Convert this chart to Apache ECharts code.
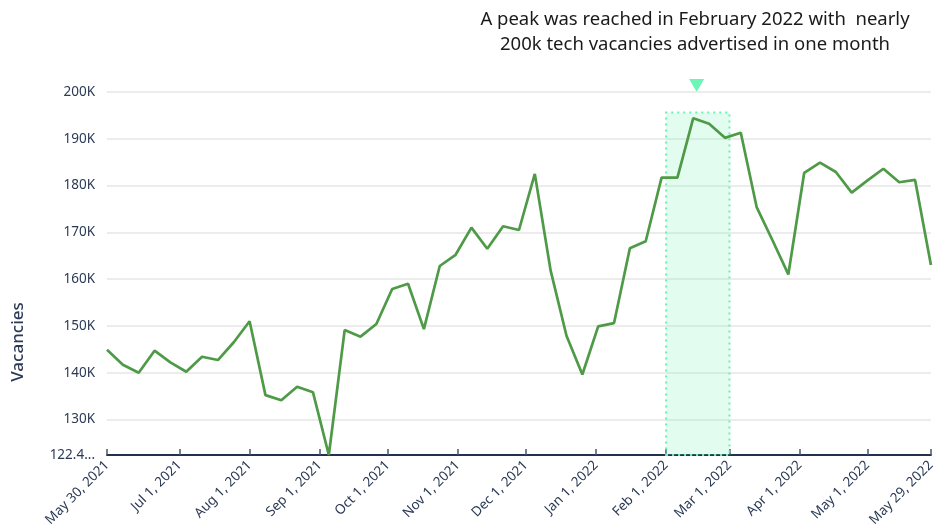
<!DOCTYPE html>
<html>
<head>
<meta charset="utf-8">
<script src="https://cdn.jsdelivr.net/npm/echarts@6/dist/echarts.min.js"></script>
<style>
  html, body { margin: 0; padding: 0; background: #fff; }
  #chart { width: 938px; height: 530px; }
</style>
</head>
<body>
<div id="chart"></div>
<script>
// weekly tech vacancies, thousands, one point per week from May 30 2021
const startDate = [2021, 4, 30]
const vacanciesK = [
  144.9, 141.7, 140.0, 144.7, 142.2, 140.2, 143.4, 142.7, 146.5, 151.0,
  135.2, 134.1, 137.0, 135.8, 122.4, 149.1, 147.7, 150.4, 157.9, 159.0,
  149.3, 162.8, 165.2, 171.0, 166.5, 171.3, 170.5, 182.5, 161.8, 147.9,
  139.6, 149.9, 150.6, 166.6, 168.1, 181.7, 181.7, 194.4, 193.2, 190.2,
  191.3, 175.4, 168.3, 161.0, 182.7, 184.9, 182.9, 178.5, 181.1, 183.6,
  180.7, 181.2, 163.0
]
// x tick labels
const tickDates = [
  [2021, 4, 30], [2021, 6, 1], [2021, 7, 1], [2021, 8, 1], [2021, 9, 1],
  [2021, 10, 1], [2021, 11, 1], [2022, 0, 1], [2022, 1, 1], [2022, 2, 1],
  [2022, 3, 1], [2022, 4, 1], [2022, 4, 29]
]
// y tick labels
const yTicks = [122400, 130000, 140000, 150000, 160000, 170000, 180000, 190000, 200000]
const yMin = 122400
const yMax = 200000
const peakBox = { from: [2022, 1, 1], to: [2022, 2, 1], top: 195600 }
const peakMarker = { at: [2022, 1, 14, 12], value: 201400 }
const noteLines = [
  'A peak was reached in February 2022 with  nearly',
  '200k tech vacancies advertised in one month'
]

const MONTHS = ['Jan', 'Feb', 'Mar', 'Apr', 'May', 'Jun', 'Jul', 'Aug', 'Sep', 'Oct', 'Nov', 'Dec']
const ts = d => new Date(d[0], d[1], d[2], d[3] || 0).getTime()
const start = new Date(startDate[0], startDate[1], startDate[2])
const seriesData = vacanciesK.map((v, i) => {
  const d = new Date(start.getFullYear(), start.getMonth(), start.getDate() + i * 7)
  return [d.getTime(), v * 1000]
})
const tickValues = tickDates.map(ts)

const navy = '#22314f'
const chart = echarts.init(document.getElementById('chart'))
chart.setOption({
  animation: false,
  grid: { left: 107, right: 2, top: 92, bottom: 75 },
  textStyle: { fontFamily: 'Noto Sans' },
  xAxis: {
    type: 'value',
    min: tickValues[0],
    max: tickValues[tickValues.length - 1],
    axisLine: { lineStyle: { color: navy, width: 2 } },
    axisTick: { show: true, inside: true, length: 6, customValues: tickValues, lineStyle: { color: '#4a5670', width: 1.5 } },
    splitLine: { show: false },
    axisLabel: {
      customValues: tickValues,
      rotate: 45,
      margin: 8,
      fontSize: 13.5,
      color: '#2b3a55',
      fontFamily: 'Noto Sans',
      hideOverlap: false,
      showMinLabel: true,
      showMaxLabel: true,
      formatter: v => {
        const d = new Date(v)
        return MONTHS[d.getMonth()] + ' ' + d.getDate() + ', ' + d.getFullYear()
      }
    }
  },
  yAxis: {
    type: 'value',
    min: yMin,
    max: yMax,
    axisLine: { show: false },
    axisTick: { show: false, customValues: yTicks },
    splitLine: { lineStyle: { color: '#e6e6e6', width: 1.5 } },
    axisLabel: {
      customValues: yTicks,
      fontSize: 13.5,
      color: '#2b3a55',
      margin: 12,
      fontFamily: 'Noto Sans',
      showMinLabel: true,
      formatter: v => v % 10000 === 0 ? (v / 1000) + 'K' : (v / 1000).toFixed(1) + '...'
    }
  },
  graphic: [
    {
      id: 'note',
      type: 'text',
      x: 695,
      y: 7,
      style: {
        text: noteLines.join('\n'),
        textAlign: 'center',
        font: '18.5px "Noto Sans"',
        lineHeight: 25,
        fill: '#1a1a1a'
      }
    },
    {
      id: 'yname',
      type: 'text',
      x: 18,
      y: 342,
      rotation: Math.PI / 2,
      style: {
        text: 'Vacancies',
        textAlign: 'center',
        textVerticalAlign: 'middle',
        font: '500 17px "Noto Sans"',
        fill: '#2b3a55'
      }
    }
  ],
  series: [{
    type: 'line',
    data: seriesData,
    symbol: 'none',
    lineStyle: { color: '#4e9a47', width: 2.7 },
    z: 5,
    markArea: {
      silent: true,
      itemStyle: {
        color: 'rgba(110, 240, 175, 0.2)',
        borderColor: '#6cf0b4',
        borderWidth: 2,
        borderType: [2, 4]
      },
      data: [[
        { xAxis: ts(peakBox.from), yAxis: yMin },
        { xAxis: ts(peakBox.to), yAxis: peakBox.top }
      ]]
    }
  }]
})

// downward triangle above the peak, placed through the chart's scales
const tip = chart.convertToPixel({ gridIndex: 0 }, [ts(peakMarker.at), peakMarker.value])
chart.setOption({
  graphic: [{
    id: 'peakArrow',
    type: 'polygon',
    shape: { points: [[tip[0] - 7.5, tip[1] - 6.5], [tip[0] + 7.5, tip[1] - 6.5], [tip[0], tip[1] + 6.5]] },
    style: { fill: '#6cf5b6' },
    silent: true
  }]
})
</script>
</body>
</html>
